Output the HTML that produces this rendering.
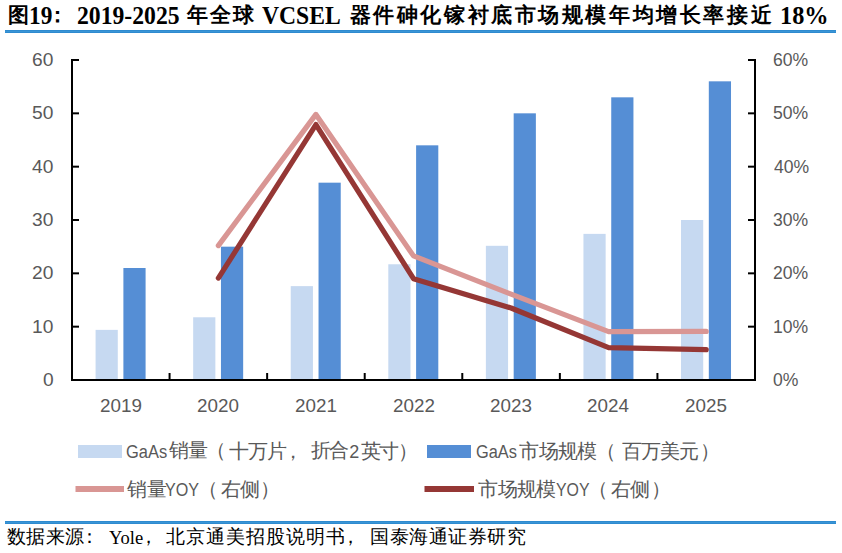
<!DOCTYPE html>
<html><head><meta charset="utf-8">
<style>
html,body{margin:0;padding:0;background:#fff;}
body{width:842px;height:553px;position:relative;overflow:hidden;}
.t{position:absolute;white-space:nowrap;}
.rule{position:absolute;left:5px;width:831px;height:3px;background:linear-gradient(#2E8BD0 0,#2E8BD0 1px,#3A95D5 1px,#3A95D5 2px,#2E8BD0 2px);}
</style></head><body>
<div class="rule" style="top:30px"></div>
<svg width="842" height="553" style="position:absolute;left:0;top:0">
<rect x="95.59" y="329.87" width="22.2" height="50.13" fill="#C6D9F1"/>
<rect x="123.39" y="268.00" width="22.2" height="112.00" fill="#558ED5"/>
<rect x="193.16" y="317.28" width="22.2" height="62.72" fill="#C6D9F1"/>
<rect x="220.96" y="246.67" width="22.2" height="133.33" fill="#558ED5"/>
<rect x="290.73" y="286.13" width="22.2" height="93.87" fill="#C6D9F1"/>
<rect x="318.53" y="182.67" width="22.2" height="197.33" fill="#558ED5"/>
<rect x="388.30" y="264.27" width="22.2" height="115.73" fill="#C6D9F1"/>
<rect x="416.10" y="145.33" width="22.2" height="234.67" fill="#558ED5"/>
<rect x="485.87" y="245.81" width="22.2" height="134.19" fill="#C6D9F1"/>
<rect x="513.67" y="113.33" width="22.2" height="266.67" fill="#558ED5"/>
<rect x="583.44" y="233.87" width="22.2" height="146.13" fill="#C6D9F1"/>
<rect x="611.24" y="97.33" width="22.2" height="282.67" fill="#558ED5"/>
<rect x="681.01" y="220.00" width="22.2" height="160.00" fill="#C6D9F1"/>
<rect x="708.81" y="81.33" width="22.2" height="298.67" fill="#558ED5"/>
<polyline points="218.36,245.60 315.93,114.40 413.50,255.89 511.07,294.13 608.64,331.68 706.21,331.41" fill="none" stroke="#D99694" stroke-width="5.2" stroke-linejoin="round" stroke-linecap="round"/>
<polyline points="218.36,278.13 315.93,124.53 413.50,278.67 511.07,308.00 608.64,347.68 706.21,349.60" fill="none" stroke="#953735" stroke-width="5.2" stroke-linejoin="round" stroke-linecap="round"/>
<path d="M72.0,380.0 h7" stroke="#000" stroke-width="2"/>
<path d="M755.0,380.0 h-7" stroke="#000" stroke-width="2"/>
<path d="M72.0,326.6666666666667 h7" stroke="#000" stroke-width="2"/>
<path d="M755.0,326.6666666666667 h-7" stroke="#000" stroke-width="2"/>
<path d="M72.0,273.33333333333337 h7" stroke="#000" stroke-width="2"/>
<path d="M755.0,273.33333333333337 h-7" stroke="#000" stroke-width="2"/>
<path d="M72.0,220.0 h7" stroke="#000" stroke-width="2"/>
<path d="M755.0,220.0 h-7" stroke="#000" stroke-width="2"/>
<path d="M72.0,166.66666666666669 h7" stroke="#000" stroke-width="2"/>
<path d="M755.0,166.66666666666669 h-7" stroke="#000" stroke-width="2"/>
<path d="M72.0,113.33333333333337 h7" stroke="#000" stroke-width="2"/>
<path d="M755.0,113.33333333333337 h-7" stroke="#000" stroke-width="2"/>
<path d="M72.0,60.0 h7" stroke="#000" stroke-width="2"/>
<path d="M755.0,60.0 h-7" stroke="#000" stroke-width="2"/>
<path d="M169.57,380.0 v-7" stroke="#000" stroke-width="2"/>
<path d="M267.14,380.0 v-7" stroke="#000" stroke-width="2"/>
<path d="M364.71,380.0 v-7" stroke="#000" stroke-width="2"/>
<path d="M462.29,380.0 v-7" stroke="#000" stroke-width="2"/>
<path d="M559.86,380.0 v-7" stroke="#000" stroke-width="2"/>
<path d="M657.43,380.0 v-7" stroke="#000" stroke-width="2"/>
<path d="M72.0,59.0 V380.0 H755.0 V59.0" fill="none" stroke="#000" stroke-width="2"/>
<rect x="78" y="445" width="44" height="13" fill="#C6D9F1"/>
<rect x="427" y="445" width="44" height="13" fill="#558ED5"/>
<path d="M75.5,489 H124" stroke="#D99694" stroke-width="6"/>
<path d="M424.5,489 H474" stroke="#953735" stroke-width="6"/>
</svg>
<span class="t" style="font-family:'Liberation Serif',serif;font-weight:bold;color:#000;font-size:21.0px;line-height:27px;left:7.70px;top:1.70px;">图</span>
<span class="t" style="font-family:'Liberation Serif',serif;font-weight:bold;color:#000;font-size:24.5px;line-height:31px;left:29.09px;top:-0.50px;transform:scaleX(0.9545);transform-origin:0 0;">19</span>
<span class="t" style="font-family:'Liberation Serif',serif;font-weight:bold;color:#000;font-size:21.0px;line-height:27px;left:47.00px;top:1.70px;">：</span>
<span class="t" style="font-family:'Liberation Serif',serif;font-weight:bold;color:#000;font-size:24.5px;line-height:31px;left:76.53px;top:-0.50px;transform:scaleX(0.9667);transform-origin:0 0;">2019-2025</span>
<span class="t" style="font-family:'Liberation Serif',serif;font-weight:bold;color:#000;font-size:21.0px;line-height:27px;left:187.13px;top:2.20px;letter-spacing:1.87px;">年全球</span>
<span class="t" style="font-family:'Liberation Serif',serif;font-weight:bold;color:#000;font-size:24.5px;line-height:31px;left:262.30px;top:-0.50px;transform:scaleX(0.9630);transform-origin:0 0;">VCSEL</span>
<span class="t" style="font-family:'Liberation Serif',serif;font-weight:bold;color:#000;font-size:21.0px;line-height:27px;left:349.60px;top:1.70px;letter-spacing:2.59px;">器件砷化镓衬底市场规模年均增长率接近</span>
<span class="t" style="font-family:'Liberation Serif',serif;font-weight:bold;color:#000;font-size:24.5px;line-height:31px;left:780.02px;top:-0.50px;transform:scaleX(0.9911);transform-origin:0 0;">18%</span>
<span class="t" style="font-family:'Liberation Serif',serif;color:#000;font-size:18.5px;line-height:24px;left:6.50px;top:525.00px;letter-spacing:0.60px;">数据来源</span>
<span class="t" style="font-family:'Liberation Serif',serif;color:#000;font-size:18.5px;line-height:24px;left:80.00px;top:525.00px;">：</span>
<span class="t" style="font-family:'Liberation Serif',serif;color:#000;font-size:19.5px;line-height:25px;left:109.20px;top:524.60px;transform:scaleX(0.9500);transform-origin:0 0;">Yole</span>
<span class="t" style="font-family:'Liberation Serif',serif;color:#000;font-size:18.5px;line-height:24px;left:139.00px;top:525.00px;">，</span>
<span class="t" style="font-family:'Liberation Serif',serif;color:#000;font-size:18.5px;line-height:24px;left:166.44px;top:525.00px;letter-spacing:0.89px;">北京通美招股说明书</span>
<span class="t" style="font-family:'Liberation Serif',serif;color:#000;font-size:18.5px;line-height:24px;left:341.00px;top:525.00px;">，</span>
<span class="t" style="font-family:'Liberation Serif',serif;color:#000;font-size:18.5px;line-height:24px;left:370.26px;top:525.00px;letter-spacing:0.53px;">国泰海通证券研究</span>
<span class="t" style="font-family:'Liberation Sans',sans-serif;color:#595959;font-size:18.0px;line-height:23px;left:125.89px;top:441.00px;transform:scaleX(0.9136);transform-origin:0 0;">GaAs</span>
<span class="t" style="font-family:'Liberation Sans',sans-serif;color:#595959;font-size:20.0px;line-height:26px;left:169.05px;top:437.30px;letter-spacing:-0.70px;">销量</span>
<span class="t" style="font-family:'Liberation Sans',sans-serif;color:#595959;font-size:20.0px;line-height:26px;left:206.40px;top:437.30px;">（</span>
<span class="t" style="font-family:'Liberation Sans',sans-serif;color:#595959;font-size:20.0px;line-height:26px;left:229.35px;top:437.80px;letter-spacing:-1.30px;">十万片</span>
<span class="t" style="font-family:'Liberation Sans',sans-serif;color:#595959;font-size:20.0px;line-height:26px;left:282.60px;top:437.80px;">，</span>
<span class="t" style="font-family:'Liberation Sans',sans-serif;color:#595959;font-size:20.0px;line-height:26px;left:310.53px;top:437.30px;letter-spacing:-1.15px;">折合</span>
<span class="t" style="font-family:'Liberation Sans',sans-serif;color:#595959;font-size:18.0px;line-height:23px;left:349.20px;top:441.00px;">2</span>
<span class="t" style="font-family:'Liberation Sans',sans-serif;color:#595959;font-size:20.0px;line-height:26px;left:360.75px;top:437.80px;letter-spacing:-1.30px;">英寸</span>
<span class="t" style="font-family:'Liberation Sans',sans-serif;color:#595959;font-size:20.0px;line-height:26px;left:398.30px;top:437.80px;">）</span>
<span class="t" style="font-family:'Liberation Sans',sans-serif;color:#595959;font-size:18.0px;line-height:23px;left:476.19px;top:441.00px;transform:scaleX(0.9091);transform-origin:0 0;">GaAs</span>
<span class="t" style="font-family:'Liberation Sans',sans-serif;color:#595959;font-size:20.0px;line-height:26px;left:519.12px;top:437.80px;letter-spacing:-0.55px;">市场规模</span>
<span class="t" style="font-family:'Liberation Sans',sans-serif;color:#595959;font-size:20.0px;line-height:26px;left:596.30px;top:437.80px;">（</span>
<span class="t" style="font-family:'Liberation Sans',sans-serif;color:#595959;font-size:20.0px;line-height:26px;left:621.51px;top:437.80px;letter-spacing:-0.78px;">百万美元</span>
<span class="t" style="font-family:'Liberation Sans',sans-serif;color:#595959;font-size:20.0px;line-height:26px;left:699.60px;top:437.80px;">）</span>
<span class="t" style="font-family:'Liberation Sans',sans-serif;color:#595959;font-size:20.0px;line-height:26px;left:127.25px;top:475.50px;letter-spacing:-0.70px;">销量</span>
<span class="t" style="font-family:'Liberation Sans',sans-serif;color:#595959;font-size:18.0px;line-height:23px;left:165.20px;top:478.70px;transform:scaleX(0.8973);transform-origin:0 0;">YOY</span>
<span class="t" style="font-family:'Liberation Sans',sans-serif;color:#595959;font-size:20.0px;line-height:26px;left:198.40px;top:475.50px;">（</span>
<span class="t" style="font-family:'Liberation Sans',sans-serif;color:#595959;font-size:20.0px;line-height:26px;left:221.00px;top:475.50px;letter-spacing:-1.00px;">右侧</span>
<span class="t" style="font-family:'Liberation Sans',sans-serif;color:#595959;font-size:20.0px;line-height:26px;left:260.30px;top:475.50px;">）</span>
<span class="t" style="font-family:'Liberation Sans',sans-serif;color:#595959;font-size:20.0px;line-height:26px;left:478.45px;top:476.00px;letter-spacing:-0.70px;">市场规模</span>
<span class="t" style="font-family:'Liberation Sans',sans-serif;color:#595959;font-size:18.0px;line-height:23px;left:556.02px;top:478.80px;transform:scaleX(0.8838);transform-origin:0 0;">YOY</span>
<span class="t" style="font-family:'Liberation Sans',sans-serif;color:#595959;font-size:20.0px;line-height:26px;left:587.60px;top:476.00px;">（</span>
<span class="t" style="font-family:'Liberation Sans',sans-serif;color:#595959;font-size:20.0px;line-height:26px;left:610.70px;top:475.50px;letter-spacing:-0.80px;">右侧</span>
<span class="t" style="font-family:'Liberation Sans',sans-serif;color:#595959;font-size:20.0px;line-height:26px;left:651.00px;top:475.50px;">）</span>
<span class="t" style="font-family:'Liberation Sans',sans-serif;color:#595959;font-size:18.5px;line-height:24px;left:42.63px;top:368.00px;transform:scaleX(1.0368);transform-origin:0 0;">0</span>
<span class="t" style="font-family:'Liberation Sans',sans-serif;color:#595959;font-size:18.5px;line-height:24px;left:773.05px;top:368.00px;transform:scaleX(0.9500);transform-origin:0 0;">0%</span>
<span class="t" style="font-family:'Liberation Sans',sans-serif;color:#595959;font-size:18.5px;line-height:24px;left:32.26px;top:314.67px;transform:scaleX(1.0368);transform-origin:0 0;">10</span>
<span class="t" style="font-family:'Liberation Sans',sans-serif;color:#595959;font-size:18.5px;line-height:24px;left:773.05px;top:314.67px;transform:scaleX(0.9500);transform-origin:0 0;">10%</span>
<span class="t" style="font-family:'Liberation Sans',sans-serif;color:#595959;font-size:18.5px;line-height:24px;left:32.26px;top:261.33px;transform:scaleX(1.0368);transform-origin:0 0;">20</span>
<span class="t" style="font-family:'Liberation Sans',sans-serif;color:#595959;font-size:18.5px;line-height:24px;left:773.05px;top:261.33px;transform:scaleX(0.9500);transform-origin:0 0;">20%</span>
<span class="t" style="font-family:'Liberation Sans',sans-serif;color:#595959;font-size:18.5px;line-height:24px;left:32.26px;top:208.00px;transform:scaleX(1.0368);transform-origin:0 0;">30</span>
<span class="t" style="font-family:'Liberation Sans',sans-serif;color:#595959;font-size:18.5px;line-height:24px;left:773.05px;top:208.00px;transform:scaleX(0.9500);transform-origin:0 0;">30%</span>
<span class="t" style="font-family:'Liberation Sans',sans-serif;color:#595959;font-size:18.5px;line-height:24px;left:32.26px;top:154.67px;transform:scaleX(1.0368);transform-origin:0 0;">40</span>
<span class="t" style="font-family:'Liberation Sans',sans-serif;color:#595959;font-size:18.5px;line-height:24px;left:774.00px;top:154.67px;transform:scaleX(0.9500);transform-origin:0 0;">40%</span>
<span class="t" style="font-family:'Liberation Sans',sans-serif;color:#595959;font-size:18.5px;line-height:24px;left:32.26px;top:101.33px;transform:scaleX(1.0368);transform-origin:0 0;">50</span>
<span class="t" style="font-family:'Liberation Sans',sans-serif;color:#595959;font-size:18.5px;line-height:24px;left:773.05px;top:101.33px;transform:scaleX(0.9500);transform-origin:0 0;">50%</span>
<span class="t" style="font-family:'Liberation Sans',sans-serif;color:#595959;font-size:18.5px;line-height:24px;left:32.26px;top:48.00px;transform:scaleX(1.0368);transform-origin:0 0;">60</span>
<span class="t" style="font-family:'Liberation Sans',sans-serif;color:#595959;font-size:18.5px;line-height:24px;left:773.05px;top:48.00px;transform:scaleX(0.9500);transform-origin:0 0;">60%</span>
<span class="t" style="font-family:'Liberation Sans',sans-serif;color:#595959;font-size:18.5px;line-height:24px;left:99.92px;top:394.00px;transform:scaleX(1.0179);transform-origin:0 0;">2019</span>
<span class="t" style="font-family:'Liberation Sans',sans-serif;color:#595959;font-size:18.5px;line-height:24px;left:196.98px;top:394.00px;transform:scaleX(1.0179);transform-origin:0 0;">2020</span>
<span class="t" style="font-family:'Liberation Sans',sans-serif;color:#595959;font-size:18.5px;line-height:24px;left:295.06px;top:394.00px;transform:scaleX(1.0179);transform-origin:0 0;">2021</span>
<span class="t" style="font-family:'Liberation Sans',sans-serif;color:#595959;font-size:18.5px;line-height:24px;left:392.63px;top:394.00px;transform:scaleX(1.0179);transform-origin:0 0;">2022</span>
<span class="t" style="font-family:'Liberation Sans',sans-serif;color:#595959;font-size:18.5px;line-height:24px;left:490.20px;top:394.00px;transform:scaleX(1.0179);transform-origin:0 0;">2023</span>
<span class="t" style="font-family:'Liberation Sans',sans-serif;color:#595959;font-size:18.5px;line-height:24px;left:587.27px;top:394.00px;transform:scaleX(1.0179);transform-origin:0 0;">2024</span>
<span class="t" style="font-family:'Liberation Sans',sans-serif;color:#595959;font-size:18.5px;line-height:24px;left:684.84px;top:394.00px;transform:scaleX(1.0179);transform-origin:0 0;">2025</span>
<div class="rule" style="top:521px"></div>
</body></html>
